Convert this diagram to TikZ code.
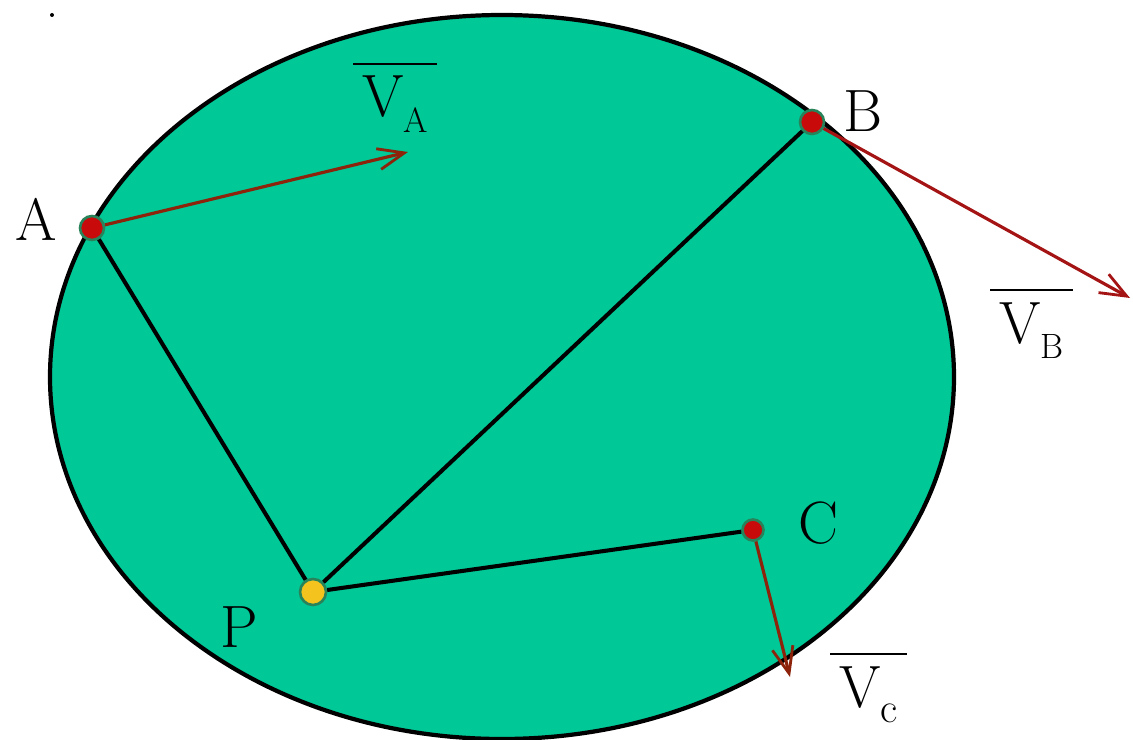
\documentclass[tikz,border=0pt]{standalone}
\usepackage{fontspec}
\usepackage{xcolor}
\usepackage{tikz}
\usetikzlibrary{arrows.meta}

\definecolor{disc}{RGB}{0,200,150}
\definecolor{rim}{RGB}{40,130,90}
\definecolor{velbrown}{RGB}{140,35,10}
\definecolor{velred}{RGB}{165,20,20}
\definecolor{dotred}{RGB}{200,10,10}
\definecolor{dotyellow}{RGB}{245,195,30}

\newcommand{\vsub}[1]{\raisebox{-9pt}{\fontsize{20}{20}\selectfont #1}}

\begin{document}
\begin{tikzpicture}[
x=0.02cm, y=-0.02cm,
dot/.style={circle, draw=rim, line width=1.5pt, fill=dotred, minimum size=0.48cm, inner sep=0pt},
lbl/.style={font=\fontsize{34}{40}\selectfont, inner sep=0pt, anchor=base west},
vlbl/.style={font=\fontsize{34}{40}\selectfont, inner xsep=5pt, inner ysep=7pt, anchor=base west},
rod/.style={line width=2.3pt, black},
vel/.style={line width=1.8pt, -{Straight Barb[length=15pt, width=12pt, line width=1.6pt]}},
bar/.style={line width=1.1pt, black}
]
\useasboundingbox (0,0) rectangle (1133,740);

% the disc
\draw[line width=2.4pt, fill=disc] (502,377) ellipse [x radius=452, y radius=362];
\fill (52,15) circle [radius=2];

% points
\node[dot] (a) at (92,228) {};
\node[dot] (b) at (812,122) {};
\node[dot, minimum size=0.42cm] (c) at (753,530) {};
\node[dot, fill=dotyellow, minimum size=0.52cm] (p) at (313,592) {};

\node[lbl] (la) at (15,240) {A};
\node[lbl] (lb) at (843,132) {B};
\node[lbl] (lc) at (798,543) {C};
\node[lbl] (lp) at (220,647) {P};

% segments to P
\draw[rod] (a) -- (p);
\draw[rod] (b) -- (p);
\draw[rod] (c) -- (p);

% velocities
\coordinate (va) at (408,152);
\coordinate (vb) at (1130,298);
\coordinate (vc) at (790,677);
\draw[vel, velbrown] (a) -- (va);
\draw[vel, velred] (b) -- (vb);
\draw[vel, velbrown] (c) -- (vc);

\node[vlbl] (lva) at (353,117) {V\vsub{A}};
\node[vlbl] (lvb) at (990,343) {V\vsub{B}};
\node[vlbl] (lvc) at (830,707) {V\vsub{\fontsize{24}{24}\selectfont c}};
\draw[bar] (lva.north west) -- (lva.north east);
\draw[bar] (lvb.north west) -- (lvb.north east);
\draw[bar] (lvc.north west) -- (lvc.north east);

\end{tikzpicture}
\end{document}
